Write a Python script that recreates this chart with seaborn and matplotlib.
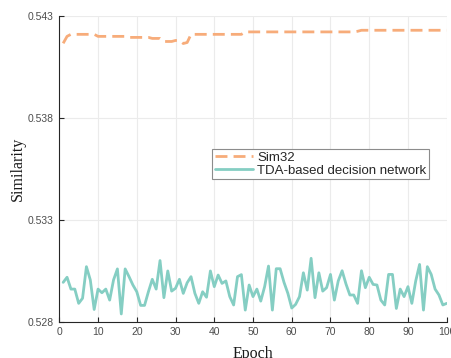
import numpy as np
import pandas as pd
import matplotlib
matplotlib.use("Agg")
import matplotlib.pyplot as plt
import seaborn as sns

# данные
epochs = list(range(1, 101))

sim32 = (
    [0.54166, 0.5420]
    + [0.5421] * 7          # 3-9
    + [0.5420] * 8          # 10-17
    + [0.54195] * 6         # 18-23
    + [0.5419] * 3          # 24-26
    + [0.54175] * 3         # 27-29
    + [0.5418, 0.5418, 0.54165, 0.5417]  # 30-33
    + [0.5421] * 14         # 34-47
    + [0.54222] * 29        # 48-76
    + [0.54225]             # 77
    + [0.5423] * 23         # 78-100
)

tda = [
    0.52993, 0.53018, 0.52960, 0.52960, 0.52890, 0.52915, 0.53070, 0.53005, 0.52860, 0.52960,
    0.52942, 0.52960, 0.52906, 0.53005, 0.53059, 0.52838, 0.53059, 0.53021, 0.52980, 0.52947,
    0.52880, 0.52880, 0.52947, 0.53008, 0.52960, 0.53100, 0.52918, 0.53049, 0.52950, 0.52964,
    0.53008, 0.52939, 0.52991, 0.53021, 0.52939, 0.52890, 0.52947, 0.52920, 0.53049, 0.52972,
    0.53029, 0.52988, 0.53000, 0.52923, 0.52882, 0.53021, 0.53031, 0.52857, 0.52980, 0.52923,
    0.52960, 0.52901, 0.52972, 0.53073, 0.52857, 0.53060, 0.53060, 0.52993, 0.52939, 0.52867,
    0.52885, 0.52923, 0.53040, 0.52955, 0.53111, 0.52918, 0.53040, 0.52950, 0.52967, 0.53032,
    0.52906, 0.53000, 0.53050, 0.52985, 0.52931, 0.52931, 0.52890, 0.53050, 0.52967, 0.53018,
    0.52983, 0.52980, 0.52906, 0.52882, 0.53032, 0.53032, 0.52865, 0.52960, 0.52923, 0.52972,
    0.52890, 0.53000, 0.53081, 0.52857, 0.53070, 0.53032, 0.52960, 0.52931, 0.52882, 0.52890,
]

series_names = ["Sim32", "TDA-based decision network"]
colors = ["#F7AC7A", "#85CEC3"]

x_ticks = list(range(0, 101, 10))
y_ticks = [0.528, 0.533, 0.538, 0.543]

df = pd.DataFrame({
    "Epoch": epochs * 2,
    "Similarity": sim32 + tda,
    "model": [series_names[0]] * 100 + [series_names[1]] * 100,
})

sns.set_theme(style="whitegrid")
plt.rcParams["font.family"] = ["Liberation Sans", "DejaVu Sans"]

fig = plt.figure(figsize=(4.52, 3.58), dpi=100)
ax = fig.add_axes([0.1312, 0.1014, 0.8571, 0.8539])

sns.lineplot(
    data=df, x="Epoch", y="Similarity", hue="model", style="model",
    palette=colors, dashes=[(4.3, 2.2), ""], linewidth=2.0, ax=ax,
)

ax.set_xlim(0, 100)
ax.set_ylim(0.528, 0.543)
ax.set_xticks(x_ticks)
ax.set_yticks(y_ticks)
ax.set_yticklabels([f"{v:.3f}" for v in y_ticks])

ax.grid(True, color="#ebebeb", linewidth=0.8)
for side in ["top", "right"]:
    ax.spines[side].set_visible(False)
for side in ["left", "bottom"]:
    ax.spines[side].set_visible(True)
    ax.spines[side].set_color("#262626")
    ax.spines[side].set_linewidth(0.8)

ax.tick_params(axis="both", direction="in", length=3.5, width=0.8,
               colors="#262626", labelcolor="#4d4d4d", labelsize=7.5, pad=4,
               left=True, bottom=True)

ax.set_xlabel("Epoch", family=["Liberation Serif", "DejaVu Serif"], fontsize=11.5,
              labelpad=6, color="#1a1a1a")
ax.set_ylabel("Similarity", family=["Liberation Serif", "DejaVu Serif"], fontsize=11.5,
              labelpad=1, color="#1a1a1a")

leg = ax.legend(
    loc="upper left", bbox_to_anchor=(0.395, 0.565), frameon=True, fancybox=False,
    edgecolor="#8c8c8c", framealpha=1, fontsize=9.5, handlelength=2.9,
    borderpad=0.2, labelspacing=0.05, handletextpad=0.3, borderaxespad=0,
)
leg.get_frame().set_linewidth(0.8)

fig.savefig("out.png", dpi=100)
